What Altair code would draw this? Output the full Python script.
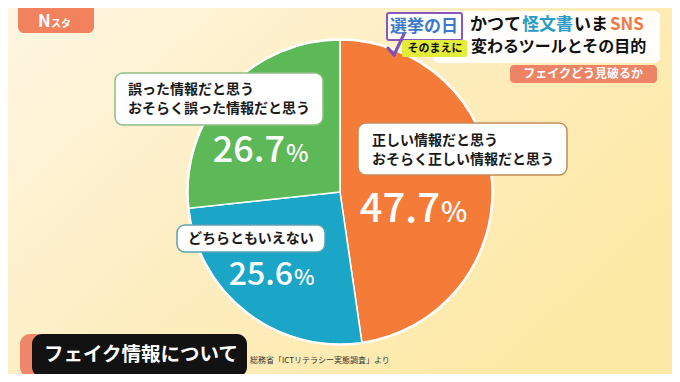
import altair as alt
import pandas as pd

# ---- data ----
categories = ["正しい情報だと思う", "どちらともいえない", "誤った情報だと思う"]
values = [47.7, 25.6, 26.7]
colors = ["#F57B39", "#1BA6C8", "#5DB857"]
order = [1, 2, 3]

label_lines = {
    "正しい情報だと思う": ["正しい情報だと思う", "おそらく正しい情報だと思う"],
    "どちらともいえない": ["どちらともいえない"],
    "誤った情報だと思う": ["誤った情報だと思う", "おそらく誤った情報だと思う"],
}

title_line1 = [("かつて", "#111111"), ("怪文書", "#2A9CC4"), ("いま", "#111111"), ("SNS", "#F07A45")]
title_line2 = "変わるツールとその目的"
subtitle = "フェイクどう見破るか"
badge_main = "選挙の日"
badge_sub = "そのまえに"
logo_a, logo_b = "N", "スタ"
banner = "フェイク情報について"
source = "総務省「ICTリテラシー実態調査」より"

df = pd.DataFrame({"cat": categories, "value": values, "order": order})

W, H = 664, 366
JP = "Noto Sans CJK JP"

base = alt.Chart(df)
one = alt.Chart(pd.DataFrame({"a": [0]}))

# background gradient
bg = one.mark_rect(
    fill=alt.Gradient(
        gradient="linear",
        stops=[alt.GradientStop(color="#FEF6E2", offset=0),
               alt.GradientStop(color="#FDEDBE", offset=0.55),
               alt.GradientStop(color="#FDE9A6", offset=1)],
        x1=0, x2=1, y1=0, y2=0.6,
    )
).encode(x=alt.value(0), x2=alt.value(W), y=alt.value(0), y2=alt.value(H))

halo = one.mark_arc(outerRadius=154, color="#FFFFFF", opacity=0.8).encode(
    theta=alt.value(6.2832), x=alt.value(332), y=alt.value(184)
)

pie = base.mark_arc(outerRadius=152, stroke="#FFFFFF", strokeWidth=1.5).encode(
    theta=alt.Theta("value:Q", stack=True),
    order=alt.Order("order:Q"),
    color=alt.Color("cat:N", scale=alt.Scale(domain=categories, range=colors), legend=None),
    x=alt.value(332),
    y=alt.value(184),
)

layers = [bg, halo, pie]


def box(x, x2, y, y2, fill="#FFFFFF", stroke=None, sw=1.5, r=8, opacity=1):
    kw = dict(fill=fill, cornerRadius=r, opacity=opacity)
    if stroke:
        kw.update(stroke=stroke, strokeWidth=sw)
    return one.mark_rect(**kw).encode(
        x=alt.value(x), x2=alt.value(x2), y=alt.value(y), y2=alt.value(y2)
    )


def txt(s, x, y, size, color="#1A1A1A", weight="bold", align="left", baseline="middle", font=JP):
    return one.mark_text(
        text=s, fontSize=size, fontWeight=weight, color=color, align=align,
        baseline=baseline, font=font
    ).encode(x=alt.value(x), y=alt.value(y))


# label boxes
layers += [
    box(107, 315, 65, 117, stroke="#8FBF86"),
    txt(label_lines[categories[2]][0], 120, 82, 14),
    txt(label_lines[categories[2]][1], 120, 101, 14),
    box(350, 559, 115, 167, stroke="#C98B55"),
    txt(label_lines[categories[0]][0], 364, 133, 14),
    txt(label_lines[categories[0]][1], 364, 152, 14),
    box(169, 317, 217, 244, stroke="#5BA3B3"),
    txt(label_lines[categories[1]][0], 180, 231, 14),
]

# percentage labels
pct = [
    (values[2], 277, 154, 36, 24),
    (values[0], 432, 214, 40, 28),
    (values[1], 285, 277, 32, 22),
]
for v, x, y, s1, s2 in pct:
    layers.append(txt(f"{v:.1f}", x, y, s1, color="#FFFFFF", weight=500, align="right", baseline="alphabetic"))
    layers.append(txt("%", x + 1, y, s2, color="#FFFFFF", weight=500, align="left", baseline="alphabetic"))

# logo
layers += [
    box(10, 86, -10, 25, fill="#F2825E", r=6),
    txt(logo_a, 30, 19, 17, color="#FFFFFF", baseline="alphabetic"),
    txt(logo_b, 43, 19, 10, color="#FFFFFF", baseline="alphabetic"),
]

# title block
layers += [
    box(425, 652, 3, 55, fill="#FFFFFF", r=6, opacity=0.95),
    box(379, 454, 5, 32, fill="#FFFFFF", stroke="#8A58BA", sw=2, r=2),
    txt(badge_main, 416, 19, 17, color="#3D78C9", align="center"),
    box(394, 459, 32, 49, fill="#E4EC3A", r=2),
    txt(badge_sub, 427, 41, 11, color="#111111", align="center"),
    one.mark_rule(color="#7E4FB8", strokeWidth=3, strokeCap="round").encode(
        x=alt.value(380), y=alt.value(40), x2=alt.value(386), y2=alt.value(47)),
    one.mark_rule(color="#7E4FB8", strokeWidth=3, strokeCap="round").encode(
        x=alt.value(386), y=alt.value(47), x2=alt.value(396), y2=alt.value(26)),
]
xs = [462, 514, 566, 602]
for (s, c), x in zip(title_line1, xs):
    layers.append(txt(s, x, 17, 17, color=c))
layers += [
    txt(title_line2, 463, 39, 16, color="#111111"),
    box(502, 649, 57, 75, fill="#EE8466", r=4),
    txt(subtitle, 575, 66, 12, color="#FFFFFF", align="center"),
]

# bottom banner
layers += [
    box(12, 60, 326, 369, fill="#F0876A", r=10),
    box(24, 239, 326, 369, fill="#121212", r=10),
    txt(banner, 36, 347, 19.5, color="#FFFFFF"),
    txt(source, 242, 353, 8, color="#333333", weight="normal"),
]

chart = alt.layer(*layers).properties(
    width=W, height=H, padding=0, autosize=alt.AutoSizeParams(type="none"),
    background="#FDF0CC",
).configure_view(stroke=None)

chart.save("out.html", embed_options={"renderer": "svg", "actions": False})
